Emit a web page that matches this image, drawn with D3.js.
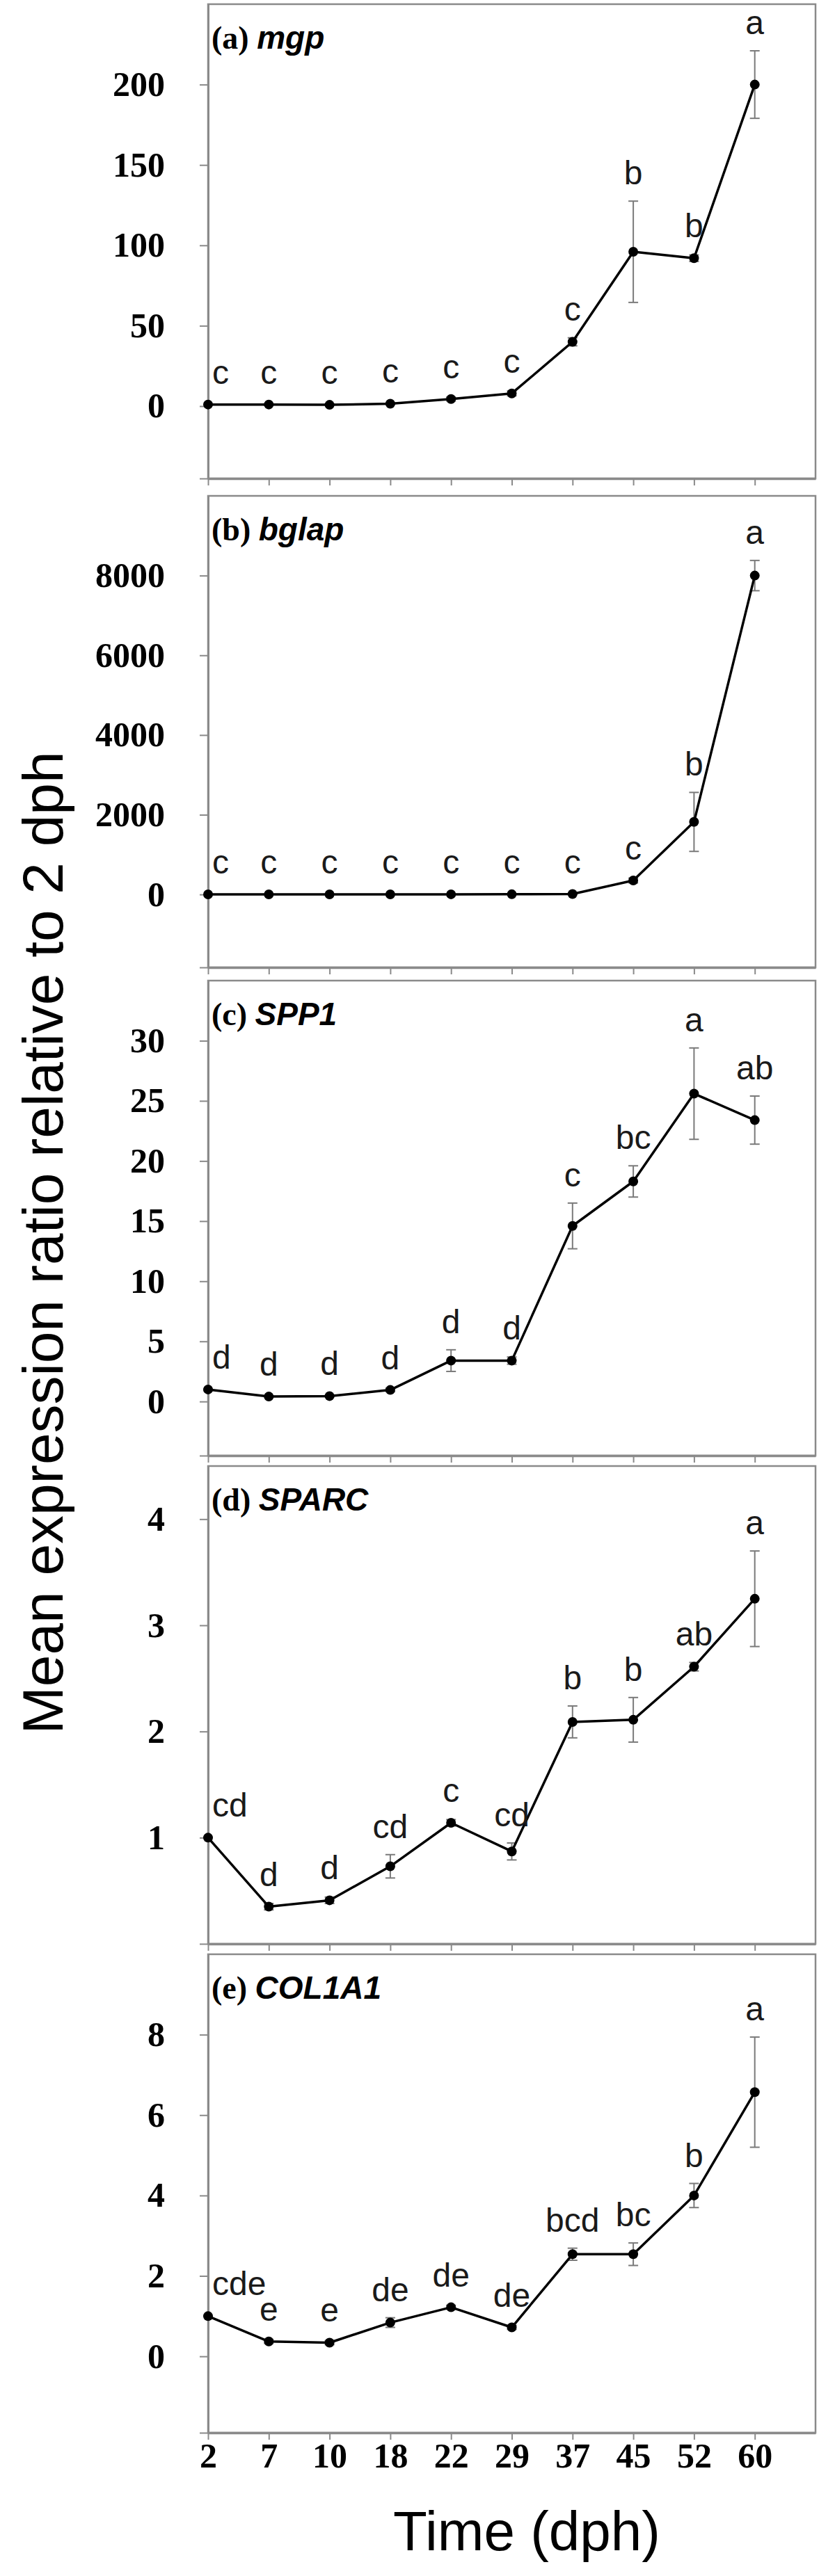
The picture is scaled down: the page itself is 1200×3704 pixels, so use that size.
<!DOCTYPE html>
<html><head><meta charset="utf-8">
<script src="https://cdn.jsdelivr.net/npm/d3@7/dist/d3.min.js"></script>
<style>body{margin:0;background:#fff} svg{display:block}</style>
</head><body>
<svg id="chart" width="1200" height="3704"></svg>
<script>
// ---------- data ----------
const times = ["2","7","10","18","22","29","37","45","52","60"];

const mgpMean    = [1, 1, 0.8, 1.5, 4.4, 7.9, 40, 96, 92, 200];
const mgpSE      = [0, 0.5, 0.3, 0.5, 1.2, 1.5, 2.5, 31.5, 2, 21];
const mgpLetters = ["c","c","c","c","c","c","c","b","b","a"];
const mgpTicks   = [0, 50, 100, 150, 200];
const mgpDomain  = [-45, 250];

const bglapMean    = [1, 2, 3, 3, 4, 5, 10, 350, 1820, 8000];
const bglapSE      = [0, 0, 0, 0, 0, 0, 5, 60, 740, 380];
const bglapLetters = ["c","c","c","c","c","c","c","c","b","a"];
const bglapTicks   = [0, 2000, 4000, 6000, 8000];
const bglapDomain  = [-1830, 10000];

const spp1Mean    = [1.0, 0.41, 0.45, 0.96, 3.4, 3.4, 14.6, 18.3, 25.6, 23.4];
const spp1SE      = [0.05, 0.05, 0.05, 0.15, 0.9, 0.3, 1.9, 1.3, 3.8, 2.0];
const spp1Letters = ["d","d","d","d","d","d","c","bc","a","ab"];
const spp1Ticks   = [0, 5, 10, 15, 20, 25, 30];
const spp1Domain  = [-4.5, 35];

const sparcMean    = [1.0, 0.35, 0.41, 0.73, 1.14, 0.87, 2.09, 2.11, 2.61, 3.25];
const sparcSE      = [0, 0.03, 0.03, 0.11, 0.03, 0.08, 0.15, 0.21, 0.04, 0.45];
const sparcLetters = ["cd","d","d","cd","c","cd","b","b","ab","a"];
const sparcTicks   = [1, 2, 3, 4];
const sparcDomain  = [0, 4.5];

const col1a1Mean    = [1.0, 0.37, 0.34, 0.84, 1.22, 0.72, 2.54, 2.54, 4.0, 6.57];
const col1a1SE      = [0, 0.05, 0.05, 0.12, 0.05, 0.05, 0.15, 0.28, 0.3, 1.37];
const col1a1Letters = ["cde","e","e","de","de","de","bcd","bc","b","a"];
const col1a1Ticks   = [0, 2, 4, 6, 8];
const col1a1Domain  = [-1.9, 10];

const panelLabels = ["(a)", "(b)", "(c)", "(d)", "(e)"];
const geneNames   = ["mgp", "bglap", "SPP1", "SPARC", "COL1A1"];
const yTitle = "Mean expression ratio relative to 2 dph";
const xTitle = "Time (dph)";

// ---------- layout ----------
const svg = d3.select("#chart");
const left = 299, right = 1172;
const x = d3.scaleLinear().domain([0, times.length]).range([left, right]);
const frameColor = "#8a8a8a";
const errColor = "#7a7a7a";
const serif = "'Liberation Serif','Times New Roman',serif";
const sans = "'Liberation Sans',Arial,sans-serif";

const panels = [
  {mean: mgpMean,    se: mgpSE,    letters: mgpLetters,    ticks: mgpTicks,    domain: mgpDomain,    top: 6,    bottom: 688},
  {mean: bglapMean,  se: bglapSE,  letters: bglapLetters,  ticks: bglapTicks,  domain: bglapDomain,  top: 713,  bottom: 1391},
  {mean: spp1Mean,   se: spp1SE,   letters: spp1Letters,   ticks: spp1Ticks,   domain: spp1Domain,   top: 1410, bottom: 2093},
  {mean: sparcMean,  se: sparcSE,  letters: sparcLetters,  ticks: sparcTicks,  domain: sparcDomain,  top: 2108, bottom: 2795},
  {mean: col1a1Mean, se: col1a1SE, letters: col1a1Letters, ticks: col1a1Ticks, domain: col1a1Domain, top: 2810, bottom: 3498}
];

panels.forEach((p, pi) => {
  const isLast = pi === panels.length - 1;
  const y = d3.scaleLinear().domain(p.domain).range([p.bottom, p.top]);
  const g = svg.append("g");

  // frame
  g.append("rect")
    .attr("x", left).attr("y", p.top)
    .attr("width", right - left).attr("height", p.bottom - p.top)
    .attr("fill", "none").attr("stroke", frameColor).attr("stroke-width", 2.5);

  // y axis
  const yAxis = d3.axisLeft(y)
    .tickValues([p.domain[0], ...p.ticks.filter(t => t !== p.domain[0])])
    .tickSize(12).tickSizeOuter(0).tickPadding(50)
    .tickFormat(v => v === p.domain[0] ? "" : d3.format("d")(v));
  const ya = g.append("g").attr("transform", `translate(${left},0)`).call(yAxis);
  ya.select(".domain").attr("stroke", frameColor).attr("stroke-width", 3);
  ya.selectAll(".tick line").attr("stroke", frameColor).attr("stroke-width", 2);
  ya.selectAll(".tick text").filter(v => v === p.domain[0]).remove();
  ya.selectAll(".tick text")
    .attr("font-family", serif).attr("font-weight", "bold")
    .attr("font-size", 50).attr("fill", "#000");

  // x axis
  const xAxis = d3.axisBottom(x)
    .tickValues(d3.range(times.length))
    .tickSize(10).tickSizeOuter(0).tickPadding(4)
    .tickFormat(i => times[i]);
  const xa = g.append("g").attr("transform", `translate(0,${p.bottom})`).call(xAxis);
  xa.select(".domain").attr("stroke", frameColor).attr("stroke-width", 3.5);
  xa.selectAll(".tick line").attr("stroke", frameColor).attr("stroke-width", 2);
  if (!isLast) xa.selectAll(".tick text").remove();
  xa.selectAll(".tick text")
    .attr("font-family", serif).attr("font-weight", "bold")
    .attr("font-size", 50).attr("fill", "#000");

  const pts = p.mean.map((m, i) => ({i, m, se: p.se[i], lab: p.letters[i]}));

  // error bars
  const eb = g.append("g").attr("stroke", errColor).attr("stroke-width", 2).attr("fill", "none");
  pts.filter(d => d.se > 0).forEach(d => {
    const cx = x(d.i), y1 = y(d.m + d.se), y2 = y(d.m - d.se);
    eb.append("line").attr("x1", cx).attr("x2", cx).attr("y1", y1).attr("y2", y2);
    eb.append("line").attr("x1", cx - 7).attr("x2", cx + 7).attr("y1", y1).attr("y2", y1);
    eb.append("line").attr("x1", cx - 7).attr("x2", cx + 7).attr("y1", y2).attr("y2", y2);
  });

  // line
  g.append("path").datum(pts)
    .attr("fill", "none").attr("stroke", "#000").attr("stroke-width", 3.5)
    .attr("stroke-linejoin", "round")
    .attr("d", d3.line().x(d => x(d.i)).y(d => y(d.m)));

  // markers
  g.selectAll("circle.pt").data(pts).join("circle")
    .attr("class", "pt")
    .attr("cx", d => x(d.i)).attr("cy", d => y(d.m)).attr("r", 7)
    .attr("fill", "#000");

  // significance letters
  g.selectAll("text.sig").data(pts).join("text")
    .attr("class", "sig")
    .attr("x", d => d.i === 0 ? x(0) + 6 : x(d.i))
    .attr("y", d => Math.min(y(d.m + d.se), y(d.m) - 6) - 24)
    .attr("text-anchor", d => d.i === 0 ? "start" : "middle")
    .attr("font-family", sans).attr("font-size", 48).attr("fill", "#1a1a1a")
    .text(d => d.lab);

  // panel title
  const t = g.append("text")
    .attr("x", left + 5).attr("y", p.top + 64)
    .attr("font-size", 46).attr("fill", "#000");
  t.append("tspan").attr("font-family", serif).attr("font-weight", "bold").text(panelLabels[pi] + " ");
  t.append("tspan").attr("font-family", sans).attr("font-weight", "bold").attr("font-style", "italic").text(geneNames[pi]);
});

// axis titles
svg.append("text")
  .attr("transform", "translate(90,1787) rotate(-90)")
  .attr("text-anchor", "middle")
  .attr("font-family", sans).attr("font-size", 82).attr("fill", "#000")
  .text(yTitle);

svg.append("text")
  .attr("x", 757).attr("y", 3667)
  .attr("text-anchor", "middle")
  .attr("font-family", sans).attr("font-size", 80).attr("fill", "#000")
  .text(xTitle);
</script>
</body></html>
